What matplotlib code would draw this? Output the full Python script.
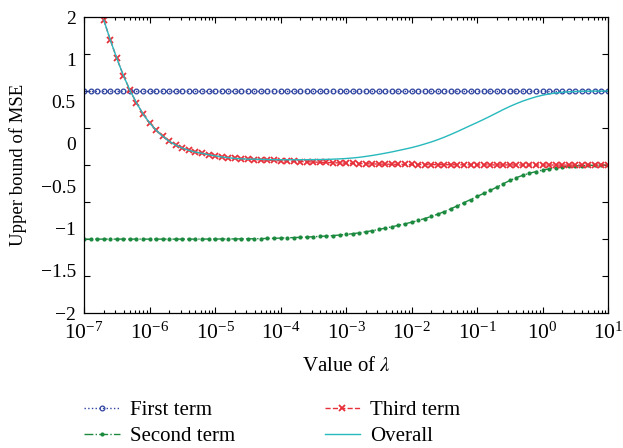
import numpy as np
import matplotlib
matplotlib.use('Agg')
import matplotlib.pyplot as plt
from matplotlib.ticker import FixedLocator, LogLocator, LogFormatterMathtext, NullFormatter

plt.rcParams['font.family'] = ['Liberation Serif', 'DejaVu Serif']
plt.rcParams['mathtext.fontset'] = 'stix'

# lambda sampled every 0.1 decade from 1e-7 to 1e1
lam = np.logspace(-7, 1, 81)

first_term = [1.0] * 81

second_term = [
    -1.0, -1.0, -1.0, -1.0, -1.0, -1.0, -1.0, -1.0, -1.0, -1.0,
    -1.0, -1.0, -1.0, -1.0, -1.0, -1.0,
    -1.0, -1.0, -0.999, -0.999, -0.999, -0.998, -0.998, -0.997, -0.997, -0.996,
    -0.995, -0.993, -0.991, -0.989, -0.986, -0.983, -0.979, -0.976, -0.972, -0.968,
    -0.963, -0.958, -0.952, -0.945, -0.937, -0.927, -0.915, -0.901, -0.886, -0.869,
    -0.851, -0.833, -0.813, -0.793, -0.772, -0.748, -0.722, -0.694, -0.663, -0.628,
    -0.590, -0.550, -0.508, -0.466, -0.424, -0.383, -0.343, -0.298, -0.252, -0.208,
    -0.170, -0.137, -0.110, -0.088, -0.068, -0.051, -0.037, -0.026, -0.018, -0.012,
    -0.007, -0.004, -0.002, -0.001, 0.0,
]

third_term = [
    np.nan, np.nan, np.nan,
    1.96, 1.69, 1.44, 1.21, 1.01, 0.84, 0.69, 0.57, 0.47, 0.39,
    0.32, 0.27, 0.23, 0.20, 0.175, 0.16, 0.14, 0.125, 0.11, 0.10,
    0.09, 0.085, 0.08, 0.075, 0.07, 0.066, 0.062, 0.058, 0.055, 0.051,
    0.048, 0.045, 0.042, 0.038, 0.035, 0.032, 0.029, 0.026, 0.023, 0.02,
    0.018, 0.016, 0.014, 0.012, 0.011, 0.01, 0.009, 0.008,
    0.007, 0.007, 0.006, 0.006, 0.005, 0.005, 0.004, 0.004, 0.004, 0.003,
    0.003, 0.003, 0.002, 0.002, 0.002, 0.002, 0.001, 0.001, 0.001, 0.001,
    0.001, 0.001, 0.0, 0.0, 0.0, 0.0, 0.0, 0.0, 0.0, 0.0,
]

overall = [
    np.nan, np.nan, np.nan,
    1.96, 1.69, 1.44, 1.21, 1.01, 0.84, 0.69, 0.57, 0.47, 0.39,
    0.32, 0.27, 0.23, 0.20, 0.175, 0.16, 0.14, 0.125, 0.11, 0.10,
    0.09, 0.085, 0.08,
    0.08, 0.077, 0.075, 0.073, 0.072, 0.072, 0.072, 0.072, 0.073, 0.074,
    0.075, 0.077, 0.08, 0.084, 0.089, 0.096, 0.105, 0.117, 0.13, 0.145,
    0.161, 0.178, 0.197, 0.216, 0.236, 0.259, 0.285, 0.312, 0.343, 0.377,
    0.414, 0.453, 0.494, 0.535, 0.575, 0.617, 0.66, 0.705, 0.75, 0.792,
    0.83, 0.865, 0.895, 0.922, 0.944, 0.961, 0.974, 0.984, 0.99, 0.994,
    0.997, 0.998, 0.999, 1.0, 1.0,
]

ytick_pos = np.linspace(2, -2, 8)
ytick_labels = ['2', '1', '0.5', '0', '\u22120.5', '\u22121', '\u22121.5', '\u22122']

fig = plt.figure(figsize=(6.23, 4.48), dpi=100)
ax = fig.add_axes([0.135, 0.301, 0.841, 0.661])

ax.plot(lam, first_term, color='#2f43a0', linestyle=':', linewidth=1.0,
        marker='o', markersize=3.4, markerfacecolor='none', markeredgewidth=0.9,
        label='First term')
ax.plot(lam, second_term, color='#1b8a3e', linestyle='-.', linewidth=1.0,
        marker='.', markersize=4, label='Second term')
ax.plot(lam, third_term, color='#e8303a', linestyle='--', linewidth=1.0,
        marker='x', markersize=4.3, markeredgewidth=1.3, label='Third term')
ax.plot(lam, overall, color='#27b9bd', linestyle='-', linewidth=1.0,
        label='Overall')

ax.set_xscale('log')
ax.set_xlim(1e-7, 1e1)
ax.set_ylim(-2, 2)

ax.xaxis.set_major_locator(LogLocator(base=10, numticks=20))
ax.xaxis.set_major_formatter(LogFormatterMathtext())
ax.xaxis.set_minor_locator(LogLocator(base=10, subs=np.arange(2, 10), numticks=20))
ax.xaxis.set_minor_formatter(NullFormatter())

# labels as printed in the figure, tick marks every 0.5
ax.set_yticks(ytick_pos)
ax.set_yticklabels(ytick_labels)
ax.yaxis.set_minor_locator(FixedLocator(np.arange(-2, 2.01, 0.5)))

ax.tick_params(axis='both', which='both', direction='in', top=True, right=True,
               width=0.8)
ax.tick_params(axis='x', which='major', length=4, pad=7, labelsize=15.5)
ax.tick_params(axis='x', which='minor', length=2)
ax.tick_params(axis='y', which='major', length=0, pad=6, labelsize=14)
ax.tick_params(axis='y', which='minor', length=4)
for sp in ax.spines.values():
    sp.set_linewidth(0.9)

ax.set_xlabel('Value of $\\lambda$', fontsize=15, labelpad=9)
ax.set_ylabel('Upper bound of MSE', fontsize=13.5, labelpad=10)

fig.legend(loc='upper left', bbox_to_anchor=(0.135, 0.106), ncol=2,
           frameon=False, fontsize=15, handlelength=1.7, handletextpad=0.5,
           columnspacing=4.3, borderpad=0, borderaxespad=0, labelspacing=0.3)

fig.savefig('out.png', dpi=100)
